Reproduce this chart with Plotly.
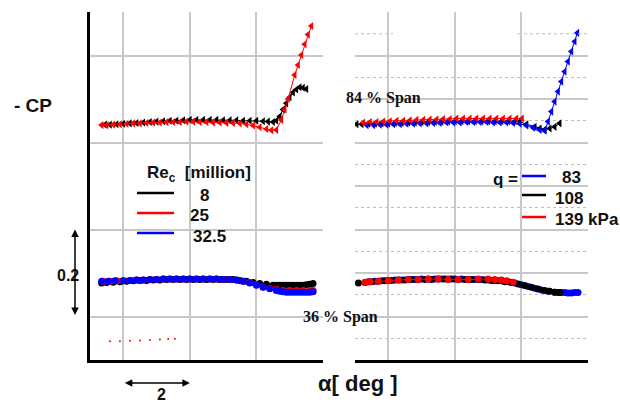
import plotly.graph_objects as go

# ---------------- data (alpha [deg], -CP) ----------------
# Left panel, 84 % span (triangles) : Re_c series
L84_x_8 = [1.45, 1.6, 1.8, 2.0, 2.2, 2.4, 2.6, 2.8, 3.0, 3.2, 3.4, 3.6, 3.8, 4.0, 4.2, 4.4, 4.6, 4.8, 5.0,
           5.2, 5.4, 5.6, 5.8, 6.0, 6.2, 6.35, 6.5, 6.6, 6.7, 6.8, 6.9, 7.0, 7.1, 7.2, 7.3, 7.4, 7.5]
L84_y_8 = [0.441, 0.441, 0.442, 0.443, 0.444, 0.445, 0.446, 0.447, 0.448, 0.449, 0.450, 0.450, 0.451, 0.452,
           0.452, 0.452, 0.452, 0.452, 0.451, 0.451, 0.451, 0.450, 0.450, 0.450, 0.449, 0.448, 0.447, 0.450,
           0.460, 0.476, 0.490, 0.504, 0.515, 0.522, 0.527, 0.526, 0.523]
L84_x_25 = [1.35, 1.5, 1.7, 1.9, 2.1, 2.3, 2.5, 2.7, 2.9, 3.1, 3.3, 3.5, 3.7, 3.9, 4.1, 4.3, 4.5, 4.7, 4.9,
            5.1, 5.3, 5.5, 5.7, 5.9, 6.1, 6.3, 6.45, 6.6, 6.75, 6.85, 6.95, 7.15, 7.25, 7.35, 7.45, 7.55, 7.65]
L84_y_25 = [0.440, 0.440, 0.441, 0.442, 0.443, 0.444, 0.444, 0.445, 0.446, 0.446, 0.447, 0.447, 0.447, 0.448,
            0.448, 0.447, 0.447, 0.446, 0.446, 0.445, 0.445, 0.444, 0.442, 0.439, 0.435, 0.431, 0.428, 0.429,
            0.452, 0.476, 0.500, 0.555, 0.578, 0.601, 0.626, 0.648, 0.668]

# Left panel, 36 % span (circles)
L36_x_8 = [1.35, 1.5, 1.7, 1.9, 2.1, 2.3, 2.5, 2.7, 2.9, 3.1, 3.3, 3.5, 3.7, 3.9, 4.1, 4.3, 4.5, 4.7, 4.9,
           5.1, 5.3, 5.5, 5.7, 5.9, 6.1, 6.3, 6.5, 6.6, 6.7, 6.8, 6.9, 7.0, 7.1, 7.2, 7.3, 7.4, 7.5, 7.6, 7.7]
L36_y_8 = [0.077, 0.078, 0.079, 0.080, 0.081, 0.082, 0.083, 0.083, 0.084, 0.084, 0.085, 0.085, 0.085, 0.085,
           0.085, 0.085, 0.085, 0.085, 0.085, 0.085, 0.085, 0.083, 0.081, 0.078, 0.076, 0.074, 0.072, 0.072,
           0.072, 0.072, 0.072, 0.072, 0.072, 0.072, 0.072, 0.072, 0.073, 0.074, 0.076]
L36_x_25 = [1.4, 1.6, 1.8, 2.0, 2.2, 2.4, 2.6, 2.8, 3.0, 3.2, 3.4, 3.6, 3.8, 4.0, 4.2, 4.4, 4.6, 4.8, 5.0,
            5.2, 5.4, 5.6, 5.8, 6.0, 6.2, 6.4, 6.6, 6.8, 7.0, 7.2, 7.4, 7.6, 7.7]
L36_y_25 = [0.081, 0.081, 0.082, 0.082, 0.083, 0.084, 0.084, 0.085, 0.085, 0.086, 0.086, 0.086, 0.086, 0.086,
            0.086, 0.086, 0.086, 0.086, 0.085, 0.085, 0.084, 0.081, 0.078, 0.073, 0.068, 0.065, 0.062, 0.060,
            0.060, 0.060, 0.060, 0.060, 0.060]
L36_x_32 = [1.35, 1.55, 1.75, 2.0, 2.2, 2.4, 2.6, 2.8, 3.0, 3.2, 3.4, 3.6, 3.8, 4.0, 4.2, 4.4, 4.6, 4.8, 5.0,
            5.2, 5.4, 5.6, 5.8, 6.0, 6.2, 6.4, 6.6, 6.7, 6.8, 6.9, 7.0, 7.1, 7.2, 7.3, 7.4, 7.5, 7.6, 7.7]
L36_y_32 = [0.081, 0.081, 0.082, 0.082, 0.083, 0.084, 0.084, 0.085, 0.085, 0.086, 0.086, 0.086, 0.086, 0.086,
            0.086, 0.086, 0.086, 0.086, 0.085, 0.085, 0.084, 0.081, 0.077, 0.072, 0.067, 0.064, 0.060, 0.058,
            0.057, 0.056, 0.056, 0.056, 0.056, 0.056, 0.056, 0.056, 0.056, 0.057]
L_stray_x = [1.6, 1.9, 2.2, 2.5, 2.8, 3.1, 3.35, 3.55]
L_stray_y = [-0.057, -0.057, -0.056, -0.055, -0.054, -0.053, -0.052, -0.051]

# Right panel, 84 % span : q series
R84_x_83 = [1.35, 1.55, 1.75, 1.95, 2.15, 2.35, 2.55, 2.75, 2.95, 3.15, 3.35, 3.55, 3.75, 3.95, 4.15, 4.35,
            4.55, 4.75, 4.95, 5.15, 5.35, 5.55, 5.75, 5.95, 6.15, 6.35, 6.55, 6.7, 6.8, 6.9, 7.0, 7.1, 7.2,
            7.3, 7.4, 7.5, 7.6, 7.68]
R84_y_83 = [0.440, 0.440, 0.441, 0.441, 0.442, 0.442, 0.443, 0.443, 0.444, 0.444, 0.445, 0.445, 0.446, 0.446,
            0.446, 0.447, 0.447, 0.447, 0.447, 0.446, 0.446, 0.446, 0.445, 0.443, 0.439, 0.434, 0.429, 0.427,
            0.448, 0.471, 0.494, 0.517, 0.540, 0.563, 0.586, 0.609, 0.632, 0.652]
R84_x_108 = [1.05, 1.2, 1.4, 1.6, 1.8, 2.0, 2.2, 2.4, 2.6, 2.8, 3.0, 3.2, 3.4, 3.6, 3.8, 4.0, 4.2, 4.4, 4.6,
             4.8, 5.0, 5.2, 5.4, 5.6, 5.8, 5.95, 6.15, 6.4, 6.55, 6.7, 6.85, 7.0, 7.15]
R84_y_108 = [0.442, 0.442, 0.443, 0.443, 0.444, 0.444, 0.445, 0.445, 0.446, 0.446, 0.447, 0.447, 0.448, 0.448,
             0.449, 0.449, 0.449, 0.449, 0.449, 0.449, 0.449, 0.449, 0.449, 0.449, 0.449, 0.448, 0.442, 0.436,
             0.432, 0.430, 0.432, 0.436, 0.444]
R84_x_139 = [1.25, 1.45, 1.65, 1.85, 2.05, 2.25, 2.45, 2.65, 2.85, 3.05, 3.25, 3.45, 3.65, 3.85, 4.05, 4.25,
             4.45, 4.65, 4.85, 5.05, 5.25, 5.45, 5.65, 5.85, 6.02]
R84_y_139 = [0.446, 0.447, 0.447, 0.448, 0.449, 0.450, 0.450, 0.451, 0.452, 0.452, 0.453, 0.453, 0.454, 0.454,
             0.455, 0.455, 0.455, 0.455, 0.455, 0.455, 0.455, 0.455, 0.455, 0.455, 0.455]

# Right panel, 36 % span
R36_x_83 = [1.4, 1.6, 1.8, 2.0, 2.2, 2.4, 2.6, 2.8, 3.0, 3.2, 3.4, 3.6, 3.8, 4.0, 4.2, 4.4, 4.6, 4.8, 5.0,
            5.2, 5.4, 5.6, 5.8, 6.0, 6.2, 6.4, 6.6, 6.8, 7.0, 7.1, 7.2, 7.3, 7.4, 7.5, 7.6, 7.7]
R36_y_83 = [0.080, 0.081, 0.082, 0.083, 0.084, 0.084, 0.085, 0.085, 0.086, 0.086, 0.086, 0.086, 0.086, 0.086,
            0.086, 0.085, 0.085, 0.085, 0.084, 0.083, 0.082, 0.080, 0.077, 0.073, 0.069, 0.065, 0.061, 0.058,
            0.056, 0.055, 0.055, 0.055, 0.054, 0.054, 0.055, 0.055]
R36_x_108 = [1.1, 1.3, 1.5, 1.7, 1.9, 2.1, 2.3, 2.5, 2.7, 2.9, 3.1, 3.3, 3.5, 3.7, 3.9, 4.1, 4.3, 4.5, 4.7,
             4.9, 5.1, 5.3, 5.5, 5.7, 5.9, 6.1, 6.3, 6.5, 6.7, 6.85, 7.0, 7.15]
R36_y_108 = [0.077, 0.078, 0.080, 0.081, 0.082, 0.083, 0.084, 0.084, 0.085, 0.085, 0.085, 0.085, 0.086, 0.086,
             0.086, 0.085, 0.085, 0.085, 0.085, 0.084, 0.083, 0.082, 0.080, 0.078, 0.075, 0.071, 0.067, 0.063,
             0.060, 0.058, 0.056, 0.055]
R36_x_139 = [1.3, 1.45, 1.7, 2.0, 2.3, 2.6, 2.9, 3.2, 3.5, 3.8, 4.1, 4.4, 4.7, 5.0, 5.2, 5.4, 5.55, 5.75]
R36_y_139 = [0.079, 0.080, 0.081, 0.082, 0.084, 0.085, 0.085, 0.086, 0.086, 0.085, 0.085, 0.085, 0.086, 0.086,
             0.085, 0.084, 0.082, 0.079]

# axis / labels
x_grid = [2, 4, 6]
y_grid_left = [0.0, 0.2, 0.4, 0.6]
y_grid_right = [0.0, 0.1, 0.2, 0.3, 0.4, 0.5, 0.6]
y_minor_right = [-0.05, 0.05, 0.15, 0.25, 0.35, 0.45, 0.55]
re_labels = ["8", "25", "32.5"]
q_labels = ["83", "108", "139 kPa"]

# ---------------- figure ----------------
W, H = 620, 403
BLACK, RED, BLUE = "#000000", "#ff0000", "#0000ff"
SANS = "Liberation Sans, Arial, sans-serif"
SERIF = "Liberation Serif, Times New Roman, serif"


def px(xp):
    return xp / W


def py(yp):
    return 1 - yp / H


fig = go.Figure()


def tri(x, y, c, xa, ya):
    fig.add_trace(go.Scatter(x=x, y=y, mode="lines+markers", xaxis=xa, yaxis=ya,
                             line=dict(color=c, width=1),
                             marker=dict(symbol="triangle-left", size=7, color=c),
                             showlegend=False, hoverinfo="skip"))


def dots(x, y, c, xa, ya):
    fig.add_trace(go.Scatter(x=x, y=y, mode="lines+markers", xaxis=xa, yaxis=ya,
                             line=dict(color=c, width=1),
                             marker=dict(symbol="circle", size=7, color=c),
                             showlegend=False, hoverinfo="skip"))


tri(L84_x_8, L84_y_8, BLACK, "x", "y")
tri(L84_x_25, L84_y_25, RED, "x", "y")
dots(L36_x_8, L36_y_8, BLACK, "x", "y")
dots(L36_x_25, L36_y_25, RED, "x", "y")
dots(L36_x_32, L36_y_32, BLUE, "x", "y")
fig.add_trace(go.Scatter(x=L_stray_x, y=L_stray_y, mode="markers", xaxis="x", yaxis="y",
                         marker=dict(size=2, color=RED), showlegend=False, hoverinfo="skip"))

tri(R84_x_108, R84_y_108, BLACK, "x2", "y2")
tri(R84_x_83, R84_y_83, BLUE, "x2", "y2")
tri(R84_x_139, R84_y_139, RED, "x2", "y2")
dots(R36_x_83, R36_y_83, BLUE, "x2", "y2")
dots(R36_x_108, R36_y_108, BLACK, "x2", "y2")
dots(R36_x_139, R36_y_139, RED, "x2", "y2")

GRID = "#c8c8c8"
ydom = [py(360), py(12)]
common_x = dict(range=[1, 8], tickvals=x_grid, showticklabels=False, ticks="", showgrid=True,
                gridcolor=GRID, gridwidth=1.5, zeroline=False, showline=True, linecolor="black",
                linewidth=2.5, fixedrange=True)
fig.update_layout(
    width=W, height=H, margin=dict(l=0, r=0, t=0, b=0),
    paper_bgcolor="white", plot_bgcolor="white",
    xaxis=dict(domain=[px(90), px(323)], anchor="y", **common_x),
    xaxis2=dict(domain=[px(355), px(588)], anchor="y2", **common_x),
    yaxis=dict(domain=ydom, anchor="x", range=[-0.1, 0.7], tickvals=y_grid_left, showticklabels=False,
               ticks="", showgrid=True, gridcolor=GRID, gridwidth=1.5, zeroline=False,
               showline=True, linecolor="black", linewidth=2.5, fixedrange=True),
    yaxis2=dict(domain=ydom, anchor="x2", range=[-0.1, 0.7], tickvals=y_grid_right, showticklabels=False,
                ticks="", showgrid=True, gridcolor=GRID, gridwidth=1.5, zeroline=False,
                showline=False, fixedrange=True,
                minor=dict(tickvals=y_minor_right, showgrid=True, gridcolor="#bdbdbd",
                           gridwidth=1, griddash="dot", ticks="")),
)

# partial dotted line near top of right panel
for x0, x1 in [(355, 393), (518, 588)]:
    fig.add_shape(type="line", xref="paper", yref="y2", x0=px(x0), x1=px(x1), y0=0.65, y1=0.65,
                  line=dict(color="#bdbdbd", width=1, dash="dot"))

# legend samples (Re_c)
for yy, c in [(193, BLACK), (213, RED), (233, BLUE)]:
    fig.add_shape(type="line", xref="paper", yref="paper", x0=px(137), x1=px(174), y0=py(yy), y1=py(yy),
                  line=dict(color=c, width=2.5))
# legend samples (q)
for yy, c in [(176, BLUE), (195, BLACK), (217, RED)]:
    fig.add_shape(type="line", xref="paper", yref="paper", x0=px(522), x1=px(546), y0=py(yy), y1=py(yy),
                  line=dict(color=c, width=2.5))


def txt(s, x, y, size, font=SANS, xanchor="center", bold=True):
    fig.add_annotation(text=("<b>%s</b>" % s) if bold else s, x=px(x), y=py(y), xref="paper", yref="paper",
                       xanchor=xanchor, yanchor="middle", showarrow=False,
                       font=dict(family=font, size=size, color="#111111"))


txt("- CP", 33, 105, 19)
txt("Re<sub>c</sub>  [million]", 145, 174, 17, xanchor="left")
txt(re_labels[0], 204, 195, 17)
txt(re_labels[1], 199, 215, 17)
txt(re_labels[2], 209, 236, 17)
txt("q =", 505, 179, 17)
txt(q_labels[0], 571, 178, 17)
txt(q_labels[1], 553, 198, 17, xanchor="left")
txt(q_labels[2], 553, 219, 17, xanchor="left")
txt("84 % Span", 383, 98, 16, font=SERIF)
txt("36 % Span", 340, 317, 16, font=SERIF)
txt("0.2", 68, 275, 16)
txt("2", 161, 394, 16)
txt("α[ deg ]", 358, 383, 22)

# scale arrows
fig.add_annotation(xref="paper", x=px(75), yref="y", y=0.2, axref="pixel", ax=0, ayref="y", ay=0.0,
                   text="", showarrow=True, arrowhead=2, arrowside="end+start", arrowsize=1,
                   arrowwidth=1.5, arrowcolor="black", standoff=0, startstandoff=0)
fig.add_annotation(xref="x", x=4, axref="x", ax=2, yref="paper", y=py(383), ayref="pixel", ay=0,
                   text="", showarrow=True, arrowhead=2, arrowside="end+start", arrowsize=1,
                   arrowwidth=1.5, arrowcolor="black", standoff=0, startstandoff=0)

fig.write_html("out.html", config={"displayModeBar": False},
               post_script="document.body.style.margin='0px';document.body.style.padding='0px';")
